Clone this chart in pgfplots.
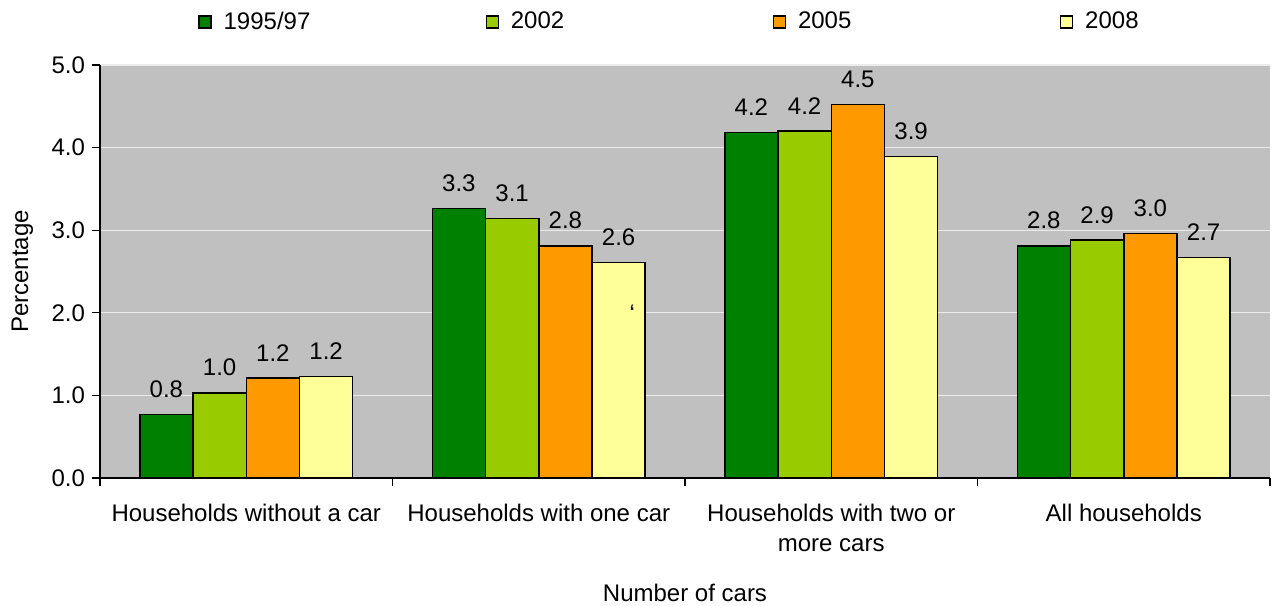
\documentclass[border=0pt]{standalone}
\usepackage{fontspec}
\setmainfont{Liberation Sans}
\usepackage{pgfplots}
\pgfplotsset{compat=1.18}
\definecolor{cA}{RGB}{0,128,0}
\definecolor{cB}{RGB}{153,204,0}
\definecolor{cC}{RGB}{255,153,0}
\definecolor{cD}{RGB}{255,255,153}
\definecolor{bg}{RGB}{192,192,192}
\newcommand{\ff}{\fontsize{12}{15}\selectfont}
\begin{document}
\begin{tikzpicture}
\path[use as bounding box] (-50pt,-63.5pt) rectangle (589.5pt,239pt);
\begin{axis}[
  at={(0,0)}, anchor=south west,
  scale only axis, width=585pt, height=206.5pt,
  xmin=-0.5, xmax=3.5, ymin=0, ymax=5,
  ybar=0pt, bar width=0.182,
  axis lines*=left,
  axis line style={black, line width=0.6pt},
  axis background/.style={fill=bg},
  ymajorgrids, grid style={white!92!black, line width=0.6pt},
  ytick={0,1,2,3,4,5},
  tick style={black, line width=0.6pt},
  tick align=outside, major tick length=4pt,
  tick label style={font=\ff},
  yticklabel style={/pgf/number format/.cd, fixed, fixed zerofill, precision=1, assume math mode=true},
  xtick={-0.5,0.5,1.5,2.5,3.5}, xticklabels={},
  extra x ticks={0,1,2,3},
  extra x tick labels={Households without a car, Households with one car, Households with two or\\more cars, All households},
  extra x tick style={major tick length=0pt, tick label style={align=center, font=\ff, yshift=-9.5pt}},
  ylabel={Percentage},
  ylabel style={at={(axis description cs:-0.0615,0.5)}, anchor=base, inner sep=0pt, font=\ff},
  xlabel={Number of cars},
  xlabel style={at={(axis description cs:0.5,-0.300)}, anchor=base, inner sep=0pt, font=\ff},
  every axis plot/.append style={draw=black, line width=0.75pt},
  nodes near coords,
  every node near coord/.append style={font=\ff, anchor=south, inner sep=0pt, yshift=8pt, black,
    /pgf/number format/.cd, fixed, fixed zerofill, precision=1, assume math mode=true},
  legend columns=4,
  legend style={at={(0.0838,1.104)}, anchor=west, draw=none, fill=none, inner sep=0pt, font=\ff,
    nodes={inner sep=0pt},
    /tikz/every odd column/.append style={column sep=6pt}},
  legend image code/.code={\draw[#1, draw=black, line width=0.6pt] (0pt,-3pt) rectangle (6pt,3pt);},
]
\addplot[fill=cA] coordinates {(0,0.77) (1,3.26) (2,4.18) (3,2.81)};
\addlegendentry{\makebox[131pt][l]{1995/97}}
\addplot[fill=cB] coordinates {(0,1.03) (1,3.14) (2,4.20) (3,2.88)};
\addlegendentry{\makebox[131pt][l]{2002}}
\addplot[fill=cC] coordinates {(0,1.21) (1,2.81) (2,4.52) (3,2.96)};
\addlegendentry{\makebox[131pt][l]{2005}}
\addplot[fill=cD] coordinates {(0,1.23) (1,2.61) (2,3.89) (3,2.67)};
\addlegendentry{2008}
\node[font=\ff, inner sep=0pt] at (axis cs:1.32,2.0) {\symbol{96}};
\end{axis}
\end{tikzpicture}
\end{document}
